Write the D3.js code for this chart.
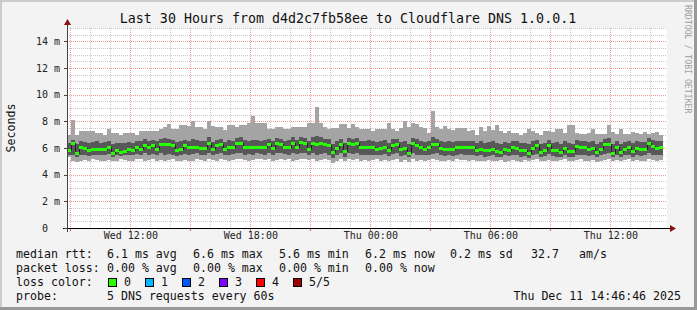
<!DOCTYPE html>
<html><head><meta charset="utf-8">
<script src="https://cdn.jsdelivr.net/npm/d3@7"></script>
<style>
body{margin:0;background:#fff;}
svg text{font-family:"DejaVu Sans Mono",monospace;}
</style>
</head><body><svg id="chart" width="697" height="310"></svg>
<script>
// ---- DATA ----
const chartTitle = "Last 30 Hours from d4d2c7fb58ee to Cloudflare DNS 1.0.0.1";
const startTime = Date.UTC(2025, 11, 10, 8, 50);   // Wed 08:50
const spanHours = 30;
const stepMinutes = 12;
// seconds (values in ms, converted below)
const pingMin = [
5.3,5.0,4.95,5.05,5.1,5.0,5.15,5.1,5.0,5.05,
5.1,5.0,5.05,5.15,5.1,5.0,5.05,5.2,5.15,5.05,
5.1,5.15,5.0,5.1,5.05,5.1,5.15,5.0,5.05,5.1,
5.0,5.05,5.15,5.1,5.05,5.2,5.1,5.05,5.15,5.1,
5.05,5.1,5.2,5.15,5.1,5.05,5.1,5.15,5.2,5.1,
5.15,5.05,5.1,5.2,5.1,5.15,5.05,5.1,5.2,5.15,
5.1,5.15,5.05,5.1,5.2,5.1,4.85,5.0,5.15,5.0,
5.15,5.1,5.2,5.05,5.1,5.0,5.1,5.15,5.05,5.1,
5.0,5.1,5.15,4.95,5.1,4.95,5.15,5.05,5.1,5.0,
5.1,5.15,5.1,5.05,5.0,5.1,5.05,5.15,5.1,5.1,
5.05,5.1,5.0,5.05,5.0,5.1,5.05,5.0,5.1,4.95,
5.0,5.1,5.05,4.95,5.1,5.0,5.1,5.15,5.05,5.0,
5.1,5.05,5.0,5.1,5.15,5.05,5.0,5.1,5.15,5.05,
5.0,5.1,4.95,5.05,5.1,5.15,5.05,5.1,5.0,5.1,
5.15,5.05,5.1,5.05,5.0,5.15,5.1,5.05,5.1];
const pingLowQ = [
5.45,5.5,5.3,5.5,5.5,5.4,5.45,5.5,5.45,5.45,
5.55,5.35,5.45,5.4,5.45,5.5,5.45,5.55,5.5,5.6,
5.5,5.55,5.45,5.6,5.5,5.55,5.5,5.4,5.45,5.55,
5.5,5.55,5.6,5.5,5.45,5.6,5.45,5.55,5.6,5.45,
5.5,5.55,5.65,5.6,5.5,5.55,5.5,5.6,5.55,5.5,
5.6,5.5,5.6,5.65,5.55,5.5,5.6,5.55,5.65,5.6,
5.45,5.6,5.5,5.55,5.6,5.5,5.25,5.45,5.6,5.35,
5.6,5.55,5.6,5.5,5.5,5.45,5.5,5.45,5.5,5.55,
5.4,5.55,5.6,5.4,5.45,5.3,5.6,5.5,5.5,5.45,
5.5,5.55,5.6,5.45,5.4,5.45,5.4,5.5,5.55,5.5,
5.5,5.5,5.4,5.45,5.35,5.4,5.45,5.35,5.3,5.45,
5.4,5.5,5.45,5.35,5.4,5.25,5.45,5.55,5.3,5.4,
5.55,5.4,5.35,5.3,5.45,5.35,5.35,5.5,5.5,5.5,
5.4,5.45,5.3,5.45,5.55,5.6,5.3,5.5,5.3,5.45,
5.5,5.35,5.45,5.4,5.45,5.6,5.5,5.45,5.5];
const pingMedian = [
5.85,6.35,5.65,6.1,6.0,5.85,5.95,5.95,5.9,5.9,
6.1,5.65,5.85,5.7,5.75,5.9,5.85,6.05,5.95,6.2,
6.05,6.2,5.95,6.3,6.3,6.3,6.2,5.85,5.95,6.2,
6.05,6.1,6.1,6.0,6.0,6.4,5.9,6.2,6.3,5.95,
6.1,6.1,6.35,6.35,6.1,6.1,6.1,6.1,6.1,6.05,
6.3,6.0,6.35,6.3,6.1,6.1,6.4,6.1,6.45,6.35,
5.95,6.4,6.3,6.35,6.3,6.2,5.7,6.0,6.3,5.75,
6.35,6.3,6.35,6.1,6.1,6.1,6.1,5.95,6.0,6.1,
5.85,6.2,6.3,5.95,6.0,5.65,6.35,6.2,6.1,5.95,
6.05,6.3,6.3,6.0,5.9,5.95,5.95,6.05,6.1,6.1,
6.05,6.1,5.85,5.95,5.85,5.85,5.95,5.75,5.7,5.95,
5.85,6.1,6.0,5.85,5.85,5.6,6.0,6.2,5.7,5.85,
6.2,5.85,5.85,5.7,6.0,5.75,5.75,6.15,6.1,6.1,
5.95,6.0,5.7,5.95,6.3,6.3,5.65,6.1,5.7,5.95,
6.05,5.8,6.0,5.95,5.95,6.35,6.15,6.0,6.1];
const pingHighQ = [
6.4,6.6,6.3,6.5,6.45,6.4,6.45,6.5,6.4,6.45,
6.55,6.3,6.4,6.35,6.4,6.45,6.4,6.55,6.5,6.65,
6.55,6.6,6.5,6.7,6.75,6.7,6.6,6.45,6.5,6.6,
6.55,6.65,6.6,6.5,6.5,6.8,6.45,6.6,6.7,6.45,
6.6,6.55,6.75,6.8,6.6,6.55,6.6,6.6,6.55,6.6,
6.7,6.5,6.75,6.7,6.55,6.6,6.8,6.6,6.85,6.75,
6.5,6.8,6.9,6.8,6.7,6.65,6.3,6.5,6.7,6.35,
6.75,6.7,6.75,6.55,6.55,6.6,6.55,6.45,6.5,6.6,
6.4,6.65,6.7,6.45,6.55,6.3,6.75,6.65,6.55,6.45,
6.5,6.8,6.7,6.5,6.45,6.5,6.45,6.5,6.55,6.55,
6.5,6.55,6.4,6.5,6.4,6.45,6.5,6.4,6.3,6.45,
6.4,6.55,6.5,6.35,6.4,6.3,6.5,6.6,6.3,6.4,
6.6,6.4,6.45,6.3,6.5,6.35,6.3,6.6,6.55,6.55,
6.45,6.5,6.3,6.45,6.7,6.75,6.3,6.55,6.3,6.45,
6.5,6.4,6.5,6.45,6.45,6.75,6.6,6.5,6.55];
const pingMax = [
7.0,8.1,7.0,7.3,7.3,7.3,7.3,7.15,7.1,7.0,
7.45,7.1,7.1,7.0,7.15,7.1,7.1,7.0,7.3,7.25,
7.25,7.3,7.25,7.4,7.6,7.8,7.4,7.4,7.7,7.7,
7.65,8.0,7.55,7.55,7.4,8.0,7.65,7.6,7.55,7.35,
7.7,7.7,7.55,7.7,7.7,7.9,8.4,7.85,7.85,7.9,
7.4,7.4,7.55,7.55,7.4,7.4,7.55,7.6,7.55,7.55,
7.9,7.85,9.1,7.9,7.55,7.4,7.5,7.5,7.8,7.8,
7.5,7.8,7.6,7.4,7.4,7.4,7.3,7.4,7.4,7.45,
7.9,7.4,7.3,7.5,8.0,7.6,7.9,7.8,7.6,7.5,
7.1,8.75,7.6,7.4,7.65,7.4,7.35,7.5,7.5,7.5,
7.25,7.35,7.0,7.6,7.25,7.65,7.35,7.7,7.25,7.1,
7.25,7.1,7.1,7.0,7.1,7.4,7.25,7.1,7.0,7.3,
7.25,7.2,7.4,7.4,7.1,7.7,7.7,7.1,7.05,7.05,
7.15,7.4,7.05,7.05,7.05,7.75,7.2,7.05,7.4,7.05,
7.05,7.2,7.15,7.05,7.2,7.05,7.15,7.2,7.0];
const yTickValues = [0, 2, 4, 6, 8, 10, 12, 14];   // ms
const yTickLabels = ["0", "2 m", "4 m", "6 m", "8 m", "10 m", "12 m", "14 m"];
const xLabelEveryHours = 6;
const lossLabels = ["0", "1", "2", "3", "4", "5/5"];
const lossColors = ["#26ff00", "#00b8ff", "#0059ff", "#7e00ff", "#ff0000", "#a10000"];
const legendRtt = [["median rtt:",16],["6.1 ms avg",107],["6.6 ms max",193],["5.6 ms min",279],["6.2 ms now",365],["0.2 ms sd",450],["32.7",531],["am/s",579]];
const legendLoss = [["packet loss:",16],["0.00 % avg",107],["0.00 % max",193],["0.00 % min",279],["0.00 % now",365]];
const probeText = "5 DNS requests every 60s";
const dateText = "Thu Dec 11 14:46:46 2025";

// ---- CHART ----
const W = 697, H = 310;
const L = 67, R = 667, T = 28, B = 228;
const svg = d3.select("#chart");
const endTime = startTime + spanHours * 3600e3;
const x = d3.scaleUtc().domain([startTime, endTime]).range([L, R]);
const y = d3.scaleLinear().domain([0, 15]).range([B, T]);

const rows = pingMedian.map((m, i) => ({
  t: startTime + i * stepMinutes * 60e3,
  lo: pingMin[i], q1: pingLowQ[i], med: m, q3: pingHighQ[i], hi: pingMax[i]
}));
const last = rows[rows.length - 1];
const rowsExt = rows.concat([{...last, t: last.t + stepMinutes * 60e3}]);

// background & frame
svg.append("rect").attr("width", W).attr("height", H).attr("fill", "#f3f3f3");
svg.append("rect").attr("x", 0).attr("y", 0).attr("width", W).attr("height", 2).attr("fill", "#cbcbcb");
svg.append("rect").attr("x", 0).attr("y", 0).attr("width", 2).attr("height", H).attr("fill", "#cbcbcb");
svg.append("rect").attr("x", 0).attr("y", H - 3).attr("width", W).attr("height", 3).attr("fill", "#999");
svg.append("rect").attr("x", W - 3).attr("y", 0).attr("width", 3).attr("height", H).attr("fill", "#999");
svg.append("rect").attr("x", L).attr("y", T).attr("width", R - L).attr("height", B - T).attr("fill", "#fff");

// grid
const g = svg.append("g").attr("shape-rendering", "crispEdges");
const minorY = d3.range(0.5, 15.01, 0.5).filter(v => v % 2 !== 0);
g.selectAll(".hmin").data(minorY).join("line")
  .attr("x1", L).attr("x2", R).attr("y1", d => Math.round(y(d)) + 0.5).attr("y2", d => Math.round(y(d)) + 0.5)
  .attr("stroke", "#c8c8c8").attr("stroke-dasharray", "1,1");
const hoursMinor = d3.utcHour.every(1).range(new Date(startTime), new Date(endTime));
const hoursMajor = d3.utcHour.every(3).range(new Date(startTime), new Date(endTime));
g.selectAll(".vmin").data(hoursMinor.filter(d => d.getUTCHours() % 3 !== 0)).join("line")
  .attr("x1", d => Math.round(x(d)) + 0.5).attr("x2", d => Math.round(x(d)) + 0.5).attr("y1", T).attr("y2", B)
  .attr("stroke", "#c8c8c8").attr("stroke-dasharray", "1,1");
g.selectAll(".hmaj").data(yTickValues.filter(v => v > 0)).join("line")
  .attr("x1", L).attr("x2", R).attr("y1", d => Math.round(y(d)) + 0.5).attr("y2", d => Math.round(y(d)) + 0.5)
  .attr("stroke", "#f29a9a").attr("stroke-dasharray", "1,1");
g.selectAll(".vmaj").data(hoursMajor).join("line")
  .attr("x1", d => Math.round(x(d)) + 0.5).attr("x2", d => Math.round(x(d)) + 0.5).attr("y1", T).attr("y2", B)
  .attr("stroke", "#f29a9a").attr("stroke-dasharray", "1,1");

// smoke
const area = (a, b) => d3.area().curve(d3.curveStepAfter).x(d => x(d.t)).y0(d => y(d[a])).y1(d => y(d[b]));
svg.append("path").datum(rowsExt).attr("d", area("lo", "hi")).attr("fill", "#a4a4a4").attr("shape-rendering", "crispEdges");
svg.append("path").datum(rowsExt).attr("d", area("q1", "q3")).attr("fill", "#585858").attr("shape-rendering", "crispEdges");
// median line
svg.append("path").datum(rowsExt)
  .attr("d", d3.line().curve(d3.curveStepAfter).x(d => x(d.t)).y(d => Math.round(y(d.med)) + 0.5))
  .attr("fill", "none").attr("stroke", "#202020").attr("stroke-width", 1).attr("shape-rendering", "crispEdges");
const band = 1.5;
svg.append("path").datum(rowsExt)
  .attr("d", d3.area().curve(d3.curveStepAfter).x(d => x(d.t))
    .y0(d => Math.round(y(d.med)) + band + 0.5).y1(d => Math.round(y(d.med)) - band + 0.5)
    .defined(d => true))
  .attr("fill", "none");
svg.append("g").selectAll("rect").data(rows).join("rect")
  .attr("x", d => x(d.t)).attr("width", d => x(d.t + stepMinutes * 60e3) - x(d.t))
  .attr("y", d => Math.round(y(d.med)) - 1).attr("height", 3)
  .attr("fill", lossColors[0]).attr("shape-rendering", "crispEdges");

// axes
const axisColor = "#000";
const arrowColor = "#8b1010";
svg.append("line").attr("x1", L - 4).attr("x2", R + 4).attr("y1", B + 0.5).attr("y2", B + 0.5).attr("stroke", axisColor).attr("shape-rendering", "crispEdges");
svg.append("line").attr("x1", L + 0.5).attr("x2", L + 0.5).attr("y1", B + 4).attr("y2", T - 4).attr("stroke", "#444").attr("shape-rendering", "crispEdges");
svg.append("path").attr("d", `M${R+3},${B-3}L${R+9},${B+0.5}L${R+3},${B+4}Z`).attr("fill", arrowColor);
svg.append("path").attr("d", `M${L-3},${T-3}L${L+0.5},${T-9}L${L+4},${T-3}Z`).attr("fill", arrowColor);
// small ticks under x axis
svg.selectAll(".xt").data(hoursMajor).join("line")
  .attr("x1", d => Math.round(x(d)) + 0.5).attr("x2", d => Math.round(x(d)) + 0.5).attr("y1", B + 1).attr("y2", B + 3)
  .attr("stroke", "#e06060").attr("shape-rendering", "crispEdges");
svg.selectAll(".yt").data(yTickValues).join("line")
  .attr("x1", L - 3).attr("x2", L).attr("y1", d => Math.round(y(d)) + 0.5).attr("y2", d => Math.round(y(d)) + 0.5)
  .attr("stroke", "#444").attr("shape-rendering", "crispEdges");

// y labels
const yAxis = d3.axisLeft(y).tickValues(yTickValues).tickSize(0).tickPadding(0)
  .tickFormat((d, i) => yTickLabels[i]);
const ya = svg.append("g").attr("transform", `translate(${L - 7},0)`).call(yAxis);
ya.select(".domain").remove();
ya.selectAll("text").attr("font-family", "DejaVu Sans Mono").attr("font-size", 10).attr("fill", "#222")
  .attr("dx", d => d === 0 ? -12 : 0);

// x labels
const xLabelTicks = d3.utcHour.every(xLabelEveryHours).range(new Date(startTime), new Date(endTime));
const xAxis = d3.axisBottom(x).tickValues(xLabelTicks).tickSize(0).tickPadding(0).tickFormat(d3.utcFormat("%a %H:%M"));
const xa = svg.append("g").attr("transform", `translate(0,${B + 4})`).call(xAxis);
xa.select(".domain").remove();
xa.selectAll("text").attr("font-family", "DejaVu Sans Mono").attr("font-size", 10).attr("fill", "#222").attr("dy", "0.71em");

// title
svg.append("text").attr("x", 348).attr("y", 23).attr("text-anchor", "middle")
  .attr("font-size", 13.3).attr("fill", "#111").text(chartTitle);
// y label
svg.append("text").attr("transform", `translate(15,128) rotate(-90)`).attr("text-anchor", "middle")
  .attr("font-size", 11.6).attr("fill", "#111").text("Seconds");
// watermark
svg.append("text").attr("transform", `translate(685,5) rotate(90)`).attr("text-anchor", "start")
  .attr("font-size", 8.2).attr("fill", "#a0a0a0").text("RRDTOOL / TOBI OETIKER");

// legend
const leg = svg.append("g").attr("font-size", 11.6).attr("fill", "#111");
leg.selectAll(".r1").data(legendRtt).join("text").attr("x", d => d[1]).attr("y", 258).text(d => d[0]);
leg.selectAll(".r2").data(legendLoss).join("text").attr("x", d => d[1]).attr("y", 272).text(d => d[0]);
leg.append("text").attr("x", 16).attr("y", 286).text("loss color:");
lossLabels.forEach((lab, i) => {
  const bx = 108 + i * 37;
  leg.append("rect").attr("x", bx + 0.5).attr("y", 278.5).attr("width", 8).attr("height", 8)
    .attr("fill", lossColors[i]).attr("stroke", "#000").attr("stroke-width", 1);
  leg.append("text").attr("x", bx + 16).attr("y", 286).text(lab);
});
leg.append("text").attr("x", 16).attr("y", 300).text("probe:");
leg.append("text").attr("x", 107).attr("y", 300).text(probeText);
leg.append("text").attr("x", 681).attr("y", 300).attr("text-anchor", "end").text(dateText);
</script>
</body></html>
